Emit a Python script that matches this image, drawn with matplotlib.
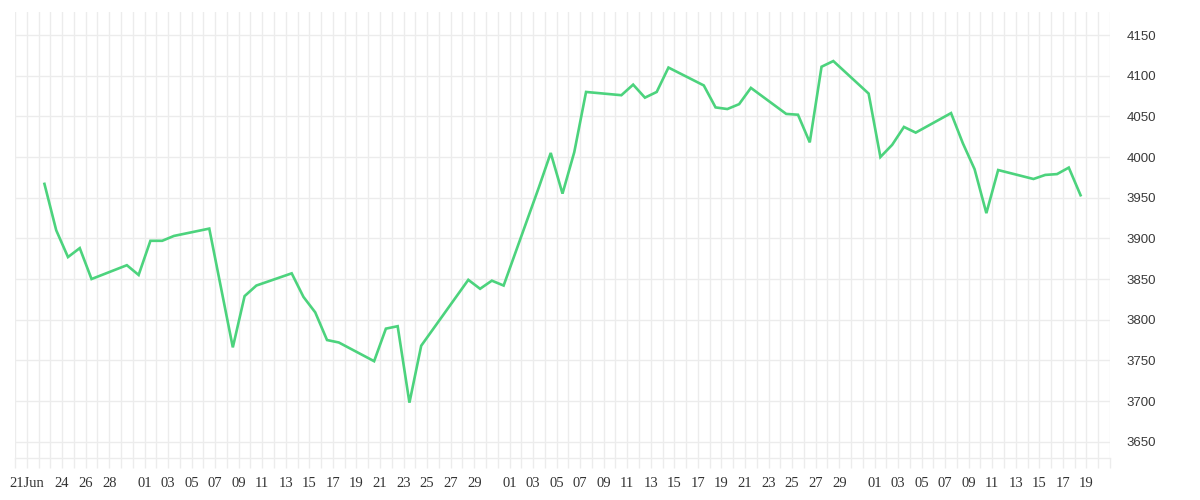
"""Daily closing line, Jun-Sep 2020, light grid with right-hand value axis."""
import matplotlib
matplotlib.use("Agg")
import matplotlib.pyplot as plt
import matplotlib.dates as mdates
import numpy as np
import pandas as pd

# --- data ---
dates = [
    "2020-06-22", "2020-06-23", "2020-06-24", "2020-06-25", "2020-06-26",
    "2020-06-29", "2020-06-30", "2020-07-01", "2020-07-02", "2020-07-03",
    "2020-07-06", "2020-07-08", "2020-07-09", "2020-07-10",
    "2020-07-13", "2020-07-14", "2020-07-15", "2020-07-16", "2020-07-17",
    "2020-07-20", "2020-07-21", "2020-07-22", "2020-07-23", "2020-07-24",
    "2020-07-28", "2020-07-29", "2020-07-30", "2020-07-31",
    "2020-08-03", "2020-08-04", "2020-08-05", "2020-08-06", "2020-08-07",
    "2020-08-10", "2020-08-11", "2020-08-12", "2020-08-13", "2020-08-14",
    "2020-08-17", "2020-08-18", "2020-08-19", "2020-08-20", "2020-08-21",
    "2020-08-24", "2020-08-25", "2020-08-26", "2020-08-27", "2020-08-28",
    "2020-08-31", "2020-09-01", "2020-09-02", "2020-09-03", "2020-09-04",
    "2020-09-07", "2020-09-08", "2020-09-09", "2020-09-10", "2020-09-11",
    "2020-09-14", "2020-09-15", "2020-09-16", "2020-09-17", "2020-09-18",
]
values = [
    3967, 3910, 3877, 3888, 3850,
    3867, 3855, 3897, 3897, 3903,
    3912, 3766, 3829, 3842,
    3857, 3828, 3809, 3775, 3772,
    3749, 3789, 3792, 3698, 3768,
    3849, 3838, 3848, 3842,
    3963, 4005, 3955, 4006, 4080,
    4076, 4089, 4073, 4080, 4110,
    4088, 4061, 4059, 4065, 4085,
    4053, 4052, 4018, 4111, 4118,
    4078, 4000, 4015, 4037, 4030,
    4054, 4017, 3985, 3931, 3984,
    3973, 3978, 3979, 3987, 3953,
]

y_ticks = [3650, 3700, 3750, 3800, 3850, 3900, 3950, 4000, 4050, 4100, 4150]
x_tick_dates = (["2020-06-21", "2020-06-24", "2020-06-26", "2020-06-28"]
                + [f"2020-07-{d:02d}" for d in range(1, 30, 2)]
                + [f"2020-08-{d:02d}" for d in range(1, 30, 2)]
                + [f"2020-09-{d:02d}" for d in range(1, 20, 2)])
x_tick_labels = ["21Jun"] + [d[-2:] for d in x_tick_dates[1:]]

LINE = "#4cd37d"
GRID = "#ececec"
TEXT = "#333333"

fig = plt.figure(figsize=(12, 5), dpi=100)
ax = fig.add_axes([15 / 1200, 1 - 458.3 / 500, (1110 - 15) / 1200, (458.3 - 12) / 500])

# points sit mid-day between the daily grid lines
x = pd.to_datetime(dates) + pd.Timedelta(hours=12)
ax.plot(x, values, color=LINE, lw=1.9, solid_joinstyle="miter", zorder=3)

ax.set_xlim(pd.Timestamp("2020-06-20"), pd.Timestamp("2020-09-21"))
ax.set_ylim(3629.6, 4178.3)

ax.xaxis.set_major_locator(matplotlib.ticker.FixedLocator(
    mdates.date2num(pd.to_datetime(x_tick_dates))))
ax.xaxis.set_major_formatter(matplotlib.ticker.FixedFormatter(x_tick_labels))
ax.xaxis.set_minor_locator(mdates.DayLocator())
ax.set_yticks(y_ticks)

ax.yaxis.tick_right()
ax.tick_params(axis="y", length=0, pad=12, labelsize=9.5, labelcolor="#3a3a3a",
               labelfontfamily="Liberation Sans")
ax.tick_params(axis="x", which="both", length=7.2, width=1, color=GRID,
               direction="out")
ax.tick_params(axis="x", which="major", pad=6, labelsize=10.5, labelcolor=TEXT,
               labelfontfamily="Liberation Serif")

ax.grid(axis="x", which="both", color=GRID, lw=1)
ax.grid(axis="y", which="major", color=GRID, lw=1)
ax.set_axisbelow(True)

for side in ("top", "left", "right"):
    ax.spines[side].set_visible(False)
ax.spines["bottom"].set_color(GRID)
ax.spines["bottom"].set_linewidth(1)

fig.savefig("out.png", dpi=100)
